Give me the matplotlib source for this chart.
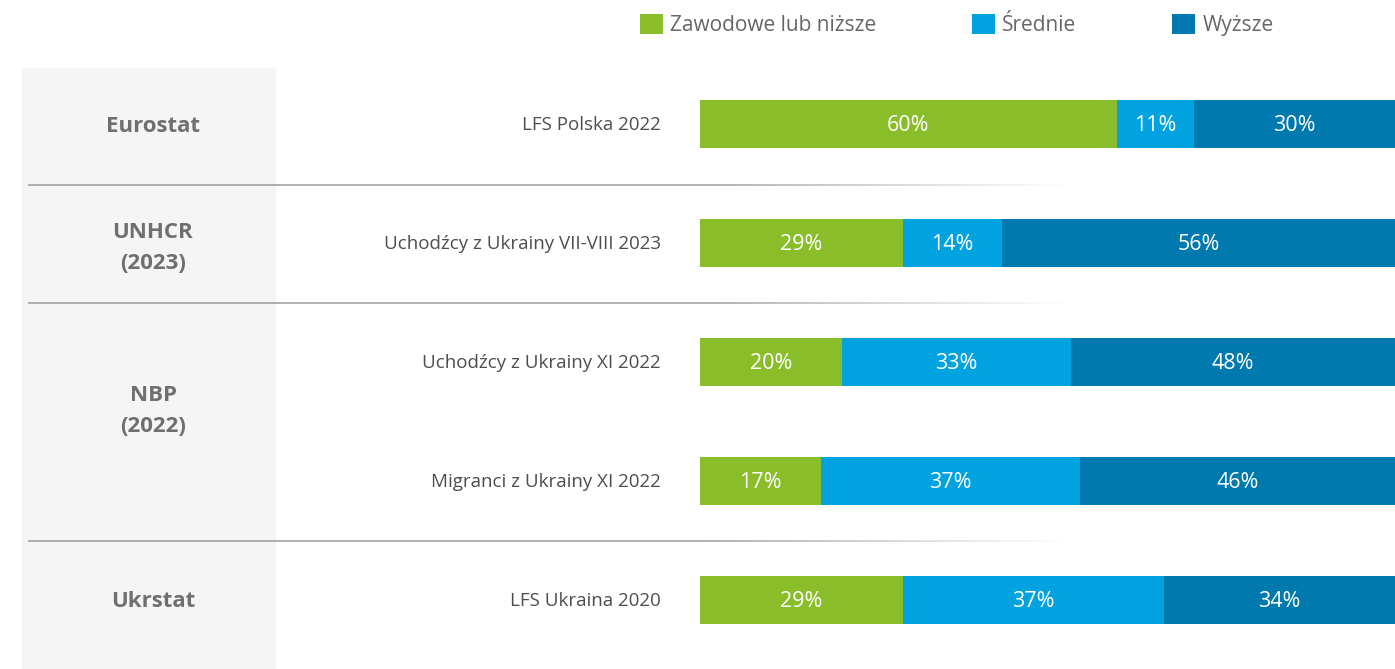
import numpy as np
import matplotlib.pyplot as plt
from matplotlib.patches import Patch, Rectangle
from matplotlib.collections import LineCollection
from matplotlib import font_manager

# data (bar widths, printed labels as shown)
rows = ["LFS Polska 2022", "Uchodźcy z Ukrainy VII-VIII 2023", "Uchodźcy z Ukrainy XI 2022",
        "Migranci z Ukrainy XI 2022", "LFS Ukraina 2020"]
vocational = [60.0, 29.2, 20.4, 17.4, 29.2]
secondary = [11.1, 14.2, 33.0, 37.3, 37.6]
higher = [28.9, 56.6, 46.6, 45.3, 33.2]
vocational_lbl = ["60%", "29%", "20%", "17%", "29%"]
secondary_lbl = ["11%", "14%", "33%", "37%", "37%"]
higher_lbl = ["30%", "56%", "48%", "46%", "34%"]
series_names = ["Zawodowe lub niższe", "Średnie", "Wyższe"]
groups = ["Eurostat", "UNHCR\n(2023)", "NBP\n(2022)", "Ukrstat"]
group_pos = [0.02, 1.04, 2.41, 4.01]
separators = [0.51, 1.5, 3.5]

colors = ["#8abd2a", "#00a3e0", "#0079ae"]
W, H = 1395, 669
ROW0, STEP = 124, 119
ylim = (-ROW0 / STEP + (H / STEP), -ROW0 / STEP)  # bottom, top

installed = {f.name for f in font_manager.fontManager.ttflist}
base = "Open Sans" if "Open Sans" in installed else "DejaVu Sans"
plt.rcParams["font.family"] = [base, "DejaVu Sans"]

fig = plt.figure(figsize=(W / 100, H / 100), dpi=100)

# background axes: x in pixels, y in row units
bg = fig.add_axes([0, 0, 1, 1])
bg.set_xlim(0, W)
bg.set_ylim(*ylim)
bg.axis("off")
bg.add_patch(Rectangle((22, -0.47), 254, 10, color="#f5f5f5", lw=0, zorder=0))

for y in separators:
    xs = np.linspace(28, 1070, 300)
    segs = [[(xs[i], y), (xs[i + 1], y)] for i in range(len(xs) - 1)]
    alpha = np.clip((1070 - xs[:-1]) / (1070 - 700), 0, 1)
    cols = [(0.62, 0.64, 0.64, a) for a in alpha]
    bg.add_collection(LineCollection(segs, colors=cols, linewidths=1.2, zorder=1))

for g, y in zip(groups, group_pos):
    bg.text(153, y, g, ha="center", va="center", fontsize=16, fontweight="bold",
            color="#6f6f6f", linespacing=1.6)

for i, r in enumerate(rows):
    bg.text(661, i + 0.01, r, ha="right", va="center", fontsize=13.5, color="#4d4d4d")

# bar axes: x in percent
ax = fig.add_axes([700 / W, 0, 695 / W, 1])
ax.set_xlim(0, 100)
ax.set_ylim(*ylim)
ax.axis("off")
ax.patch.set_alpha(0)

y = np.arange(len(rows))
left = np.zeros(len(rows))
for vals, lbls, c in zip([vocational, secondary, higher],
                         [vocational_lbl, secondary_lbl, higher_lbl], colors):
    bars = ax.barh(y, vals, left=left, height=48 / STEP, color=c, edgecolor="none")
    for b, lb in zip(bars, lbls):
        cx = b.get_x() + b.get_width() / 2
        ax.text(cx, b.get_y() + b.get_height() / 2 + 0.015, lb, ha="center", va="center",
                color="white", fontsize=15.5)
    left += np.array(vals)

handles = [Patch(facecolor=c, edgecolor="none") for c in colors]
fig.legend(handles, series_names, loc="upper left", bbox_to_anchor=(621 / W, 1 + 5 / H),
           ncol=3, frameon=False, fontsize=15, handlelength=1.1, handleheight=1.1,
           handletextpad=0.35, columnspacing=4.6, labelcolor="#666666")

fig.savefig("out.png", dpi=100)
